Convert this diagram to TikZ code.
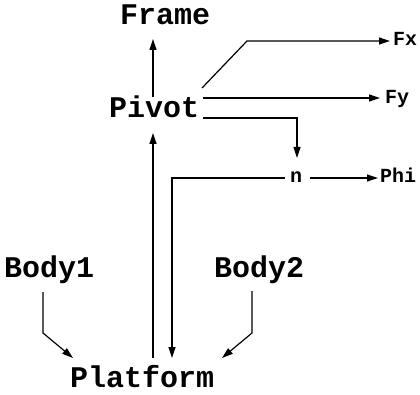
\documentclass[tikz,border=0pt]{standalone}
\usepackage{fontspec}
\setmonofont{Liberation Mono}
\usetikzlibrary{arrows.meta}
\begin{document}
\begin{tikzpicture}[x=1pt,y=-1pt,
  big/.style={font=\ttfamily\bfseries\fontsize{30}{30}\selectfont, inner sep=0, anchor=base west},
  small/.style={font=\ttfamily\bfseries\fontsize{20}{20}\selectfont, inner sep=0, anchor=base west},
  conn/.style={line width=1.2pt, -{Triangle[length=11pt,width=7pt]}}]
\useasboundingbox (0,0) rectangle (420,395);
\node[big] (frame) at (120,25) {Frame};
\node[big] (pivot) at (109,118) {Pivot};
\node[big] (body1) at (4,277) {Body1};
\node[big] (body2) at (214,277) {Body2};
\node[big] (platform) at (70,387) {Platform};
\node[small] (fx) at (393,46) {Fx};
\node[small] (fy) at (385,104) {Fy};
\node[small] (n) at (290,183) {n};
\node[small] (phi) at (380,183) {Phi};
% connector points
\coordinate (pv1) at (153,97);
\coordinate (fr1) at (153,39);
\coordinate (fx0) at (202,88);
\coordinate (fx1) at (247,41);
\coordinate (fx2) at (390,41);
\coordinate (fy0) at (203,98);
\coordinate (fy1) at (380,98);
\coordinate (nn0) at (203,118);
\coordinate (nn1) at (297,118);
\coordinate (nn2) at (297,158);
\coordinate (ph0) at (310,178);
\coordinate (ph1) at (378,178);
\coordinate (np0) at (285,178);
\coordinate (np1) at (172,178);
\coordinate (np2) at (172,358);
\coordinate (pp0) at (153,358);
\coordinate (pp1) at (153,133);
\coordinate (b10) at (43,292);
\coordinate (b11) at (43,333);
\coordinate (b12) at (73,358);
\coordinate (b20) at (252,291);
\coordinate (b21) at (252,333);
\coordinate (b22) at (222,358);
\draw[conn] (pv1) -- (fr1);
\draw[conn] (fx0) -- (fx1) -- (fx2);
\draw[conn] (fy0) -- (fy1);
\draw[conn] (nn0) -- (nn1) -- (nn2);
\draw[conn] (ph0) -- (ph1);
\draw[conn] (np0) -- (np1) -- (np2);
\draw[conn] (pp0) -- (pp1);
\draw[conn] (b10) -- (b11) -- (b12);
\draw[conn] (b20) -- (b21) -- (b22);
\end{tikzpicture}
\end{document}
